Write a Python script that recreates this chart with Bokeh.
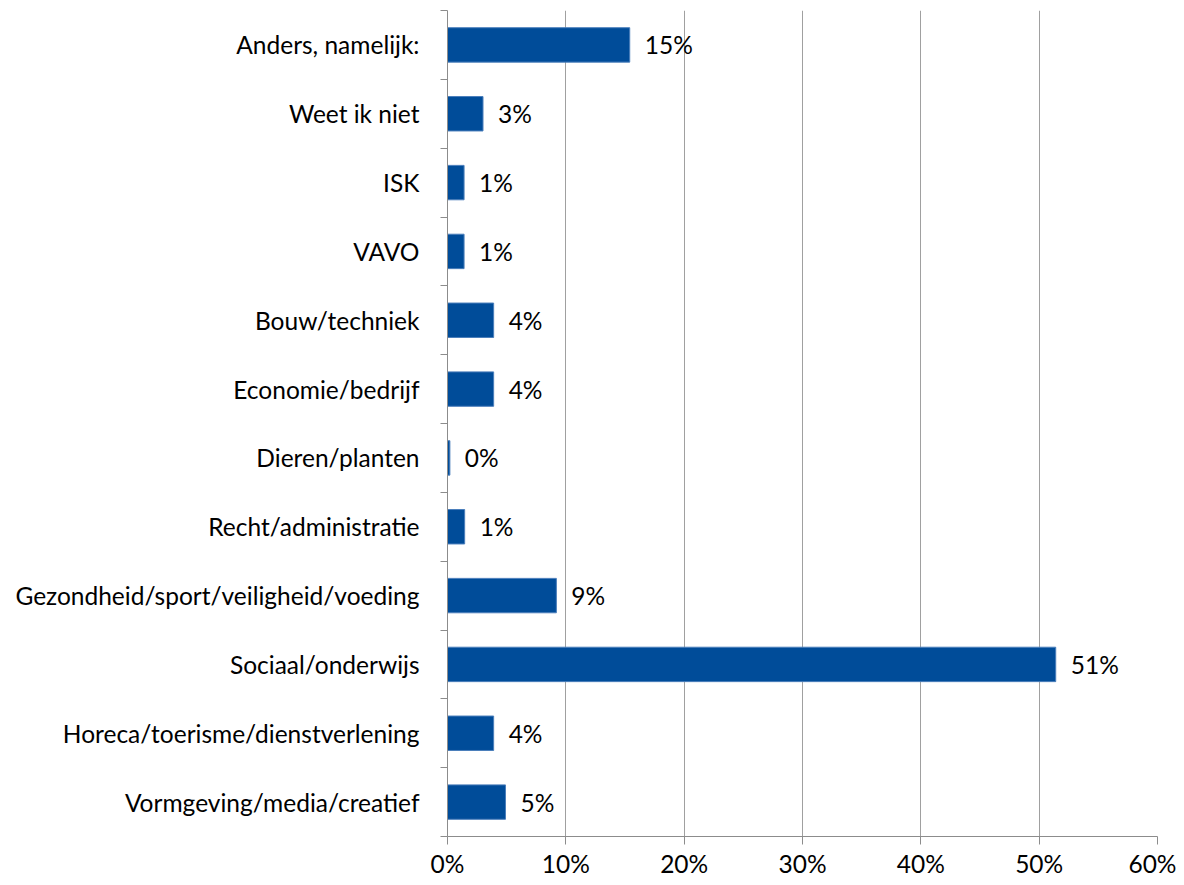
from bokeh.plotting import figure
from bokeh.models import Range1d, FixedTicker, NumeralTickFormatter, ColumnDataSource
from bokeh.core.properties import value
from bokeh.embed import file_html
from bokeh.resources import INLINE

# Categories listed top to bottom
categories = [
    "Anders, namelijk:",
    "Weet ik niet",
    "ISK",
    "VAVO",
    "Bouw/techniek",
    "Economie/bedrijf",
    "Dieren/planten",
    "Recht/administratie",
    "Gezondheid/sport/veiligheid/voeding",
    "Sociaal/onderwijs",
    "Horeca/toerisme/dienstverlening",
    "Vormgeving/media/creatief",
]
shares = [0.154, 0.030, 0.014, 0.014, 0.039, 0.039, 0.002, 0.0145, 0.092, 0.514, 0.039, 0.049]
x_ticks = [0.0, 0.1, 0.2, 0.3, 0.4, 0.5, 0.6]

n = len(categories)
ypos = [n - i - 0.5 for i in range(n)]
labels = [f"{v:.0%}" for v in shares]
src = ColumnDataSource(dict(y=ypos, v=shares, lab=labels, cat=categories))

FONT = "Lato"
FS = "24.5px"

p = figure(width=1176, height=880, output_backend="svg", toolbar_location=None,
           x_range=Range1d(0, 0.6), y_range=Range1d(0, n),
           min_border_left=447, min_border_right=19, min_border_top=10, min_border_bottom=42)
p.outline_line_color = None
p.background_fill_color = "white"

p.hbar(y="y", right="v", left=0, height=0.5, source=src,
       fill_color="#004C99", line_color="#4A7EBB", line_width=1)

p.text(x="v", y="y", text="lab", source=src, x_offset=15,
       text_baseline="middle", text_align="left",
       text_font=value(FONT), text_font_size=FS, text_color="#000000")

# x axis
p.xaxis.ticker = FixedTicker(ticks=x_ticks)
p.xaxis.formatter = NumeralTickFormatter(format="0%")
p.xaxis.axis_line_color = "#8C8C8C"
p.xaxis.major_tick_line_color = "#8C8C8C"
p.xaxis.major_tick_out = 8
p.xaxis.major_tick_in = 0
p.xaxis.minor_tick_line_color = None
p.xaxis.major_label_standoff = 4
p.xaxis.major_label_text_font = FONT
p.xaxis.major_label_text_font_size = FS
p.xaxis.major_label_text_color = "#000000"

# y axis: labels at centres, tick marks at boundaries
p.yaxis.ticker = FixedTicker(ticks=ypos, minor_ticks=list(range(n + 1)))
p.yaxis.major_label_overrides = {y: c for y, c in zip(ypos, categories)}
p.yaxis.axis_line_color = "#8C8C8C"
p.yaxis.major_tick_line_color = None
p.yaxis.major_tick_out = 0
p.yaxis.major_tick_in = 0
p.yaxis.minor_tick_line_color = "#8C8C8C"
p.yaxis.minor_tick_out = 7
p.yaxis.minor_tick_in = 0
p.yaxis.major_label_standoff = 21
p.yaxis.major_label_text_font = FONT
p.yaxis.major_label_text_font_size = FS
p.yaxis.major_label_text_color = "#000000"

p.xgrid.grid_line_color = "#A0A0A0"
p.xgrid.grid_line_width = 1
p.ygrid.grid_line_color = None

open("out.html", "w").write(file_html(p, INLINE))
